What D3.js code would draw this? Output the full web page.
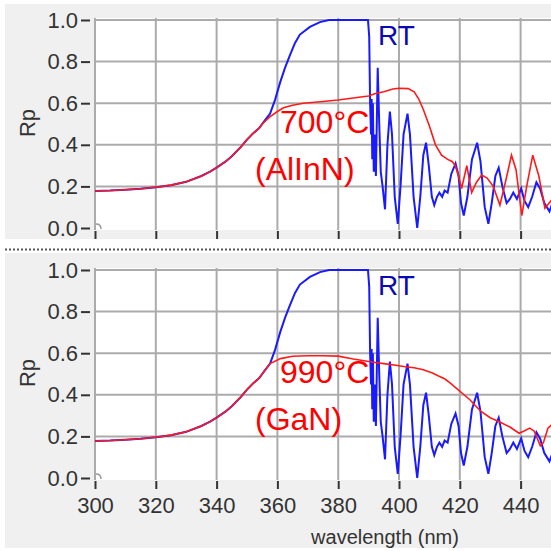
<!DOCTYPE html>
<html>
<head>
<meta charset="utf-8">
<script src="https://cdn.jsdelivr.net/npm/d3@7"></script>
<style>
  body { margin: 0; background: #fff; }
  svg { display: block; }
</style>
</head>
<body>
<div id="chart"></div>
<script>
// shared low-wavelength part (blue and red lie on top of each other)
var baseWl = [300, 305, 310, 315, 320, 325, 330, 335, 338, 340, 343, 345, 348, 350, 352, 354];
var baseRp = [0.178, 0.18, 0.184, 0.189, 0.196, 0.206, 0.222, 0.25, 0.272, 0.29, 0.32, 0.345, 0.39, 0.425, 0.455, 0.48];

// RT curve (blue), same in both panels
var rtWl = [355, 356, 357.6, 359.2, 360.9, 362.5, 364.1, 365.8, 367.4, 370.7,
            374, 377, 389.8, 390.2, 390.5, 390.8, 391.0, 391.2, 391.4, 391.7,
            392.0, 392.4, 393.0, 393.5, 394.0, 394.6, 395.4, 396.2, 397.0, 397.7,
            398.6, 399.6, 400.5, 401.5, 402.8, 403.6, 404.8, 406.0, 407.0, 408.0,
            408.9, 409.8, 410.8, 411.6, 412.5, 413.3, 414.2, 415.0, 416.0, 417.2,
            418.6, 419.6, 420.4, 421.3, 422.5, 424.0, 425.7, 426.8, 428.2, 429.4,
            430.5, 431.7, 432.8, 434.0, 435.4, 436.5, 437.6, 438.8, 440.2, 441.3,
            442.5, 443.8, 445.2, 446.4, 447.8, 449.5, 450.5];
var rtRp = [0.5, 0.52, 0.55, 0.615, 0.70, 0.77, 0.83, 0.89, 0.93, 0.967,
            0.99, 1.0, 1.0, 0.92, 0.6, 0.45, 0.62, 0.33, 0.6, 0.27,
            0.45, 0.25, 0.77, 0.5, 0.27, 0.2, 0.09, 0.4, 0.56, 0.45,
            0.15, 0.02, 0.2, 0.45, 0.55, 0.45, 0.15, 0.0, 0.15, 0.35,
            0.41, 0.3, 0.15, 0.11, 0.15, 0.17, 0.15, 0.18, 0.17, 0.26,
            0.31, 0.25, 0.12, 0.06, 0.15, 0.33, 0.41, 0.32, 0.1, 0.02,
            0.12, 0.25, 0.29, 0.2, 0.12, 0.14, 0.17, 0.14, 0.19, 0.13,
            0.1, 0.15, 0.22, 0.19, 0.12, 0.08, 0.12];

// 700°C AlInN (red, top panel)
var alinnWl = [355, 357.6, 360, 362, 365, 368.5, 375, 380, 385, 390,
               392, 395, 398, 400, 403, 405, 406.5, 408, 410, 412,
               414, 416, 417.5, 418.5, 419.5, 420.6, 422.3, 423.9, 425.5, 427.2,
               429, 431, 433.2, 435, 437, 438.5, 440.4, 442, 444, 446,
               448, 450.5];
var alinnRp = [0.5, 0.535, 0.56, 0.578, 0.59, 0.60, 0.608, 0.615, 0.625, 0.635,
               0.645, 0.655, 0.668, 0.672, 0.67, 0.655, 0.62, 0.57, 0.49, 0.40,
               0.35, 0.33, 0.32, 0.30, 0.255, 0.19, 0.30, 0.17, 0.22, 0.255,
               0.24, 0.2, 0.11, 0.22, 0.35, 0.28, 0.06, 0.2, 0.35, 0.25,
               0.095, 0.14];

// 990°C GaN (red, bottom panel)
var ganWl = [355, 357.6, 361, 365, 370, 375, 380, 385, 388, 391,
             395, 399, 402, 405, 408, 411, 413, 415, 417, 419,
             421, 423.4, 425, 427, 430, 433, 436.5, 439.5, 441, 443,
             444.5, 446.5, 447.5, 449, 450.5];
var ganRp = [0.5, 0.55, 0.574, 0.585, 0.588, 0.588, 0.586, 0.572, 0.565, 0.558,
             0.55, 0.542, 0.535, 0.53, 0.52, 0.505, 0.49, 0.477, 0.455, 0.43,
             0.405, 0.375, 0.35, 0.32, 0.29, 0.27, 0.245, 0.215, 0.225, 0.24,
             0.225, 0.155, 0.17, 0.24, 0.26];

var xTicks = [300, 320, 340, 360, 380, 400, 420, 440];
var yTicks = [0, 0.2, 0.4, 0.6, 0.8, 1.0];

var w = 551, h = 551;
var font = "'Liberation Sans', Arial, sans-serif";

var svg = d3.select("#chart").append("svg")
  .attr("width", w)
  .attr("height", h);

svg.append("rect").attr("width", w).attr("height", h).attr("fill", "#fff");
svg.append("rect").attr("x", 5).attr("y", 4).attr("width", w - 5).attr("height", 235).attr("fill", "#f0f0f0");
svg.append("rect").attr("x", 5).attr("y", 253).attr("width", w - 5).attr("height", 295).attr("fill", "#f0f0f0");

// dotted separator between the two graphs
svg.append("line")
  .attr("x1", 5).attr("x2", w)
  .attr("y1", 249.5).attr("y2", 249.5)
  .attr("stroke", "#555")
  .attr("stroke-width", 2)
  .attr("stroke-dasharray", "2,2");

var xScale = d3.scaleLinear()
  .domain([300, 450])
  .range([95, 551]);

function toPoints(wl, rp) {
  return wl.map(function(d, i) { return [d, rp[i]]; });
}

var drawPanel = function(top, redWl, redRp, tempLabel, matLabel, showXLabels) {
  var yScale = d3.scaleLinear()
    .domain([0, 1])
    .range([top + 208, top]);

  var g = svg.append("g");

  g.append("rect")
    .attr("x", xScale(300))
    .attr("y", top - 2)
    .attr("width", w - xScale(300))
    .attr("height", yScale(0) - top + 4)
    .attr("fill", "#fff");

  // grid
  g.selectAll(".vgrid")
    .data(xTicks)
    .enter()
    .append("line")
    .attr("x1", function(d) { return xScale(d); })
    .attr("x2", function(d) { return xScale(d); })
    .attr("y1", top - 2)
    .attr("y2", yScale(0) + 2)
    .attr("stroke", "#ababab")
    .attr("stroke-width", 2);

  g.selectAll(".hgrid")
    .data(yTicks.slice(1))
    .enter()
    .append("line")
    .attr("x1", xScale(300))
    .attr("x2", w)
    .attr("y1", function(d) { return yScale(d); })
    .attr("y2", function(d) { return yScale(d); })
    .attr("stroke", "#ababab")
    .attr("stroke-width", 2);

  // axes
  var yAxis = d3.axisLeft(yScale)
    .tickValues(yTicks)
    .tickFormat(d3.format(".1f"))
    .tickSize(9)
    .tickPadding(3);

  var ya = g.append("g")
    .attr("transform", "translate(90,0)")
    .call(yAxis);

  var xAxis = d3.axisBottom(xScale)
    .tickValues(xTicks)
    .tickSize(8)
    .tickPadding(8)
    .tickFormat(showXLabels ? d3.format("d") : "");

  var xa = g.append("g")
    .attr("transform", "translate(0," + (yScale(0) + 3) + ")")
    .call(xAxis);

  [ya, xa].forEach(function(a) {
    a.select(".domain").remove();
    a.selectAll(".tick line").attr("stroke", "#333").attr("stroke-width", 2);
    a.selectAll(".tick text")
      .attr("fill", "#333")
      .attr("font-family", font)
      .attr("font-size", "22px");
  });

  g.append("text")
    .attr("transform", "translate(27," + (top + 103) + ") rotate(-90)")
    .attr("text-anchor", "middle")
    .attr("dominant-baseline", "central")
    .attr("font-family", font)
    .attr("font-size", "22px")
    .attr("fill", "#333")
    .text("Rp");

  // little marker at the origin
  g.append("path")
    .attr("d", "M" + (xScale(300) + 1) + "," + (yScale(0) - 4) + " q5,0 5,5")
    .attr("fill", "none")
    .attr("stroke", "#999")
    .attr("stroke-width", 1.5);

  var line = d3.line()
    .x(function(d) { return xScale(d[0]); })
    .y(function(d) { return yScale(d[1]); });

  var blue = toPoints(baseWl.concat(rtWl), baseRp.concat(rtRp));
  var red = toPoints(baseWl.concat(redWl), baseRp.concat(redRp));

  g.append("path")
    .datum(blue)
    .attr("d", line)
    .attr("fill", "none")
    .attr("stroke", "#1a1aff")
    .attr("stroke-width", 2);

  g.append("path")
    .datum(red)
    .attr("d", line)
    .attr("fill", "none")
    .attr("stroke", "#ff1a1a")
    .attr("stroke-width", 1.6);

  // labels
  g.append("text")
    .attr("x", 378)
    .attr("y", top + 25)
    .attr("font-family", font)
    .attr("font-size", "28px")
    .attr("fill", "#0a0ab4")
    .text("RT");

  g.append("text")
    .attr("x", 280)
    .attr("y", top + 113)
    .attr("font-family", font)
    .attr("font-size", "32px")
    .attr("fill", "#ff0000")
    .text(tempLabel);

  g.append("text")
    .attr("x", 255)
    .attr("y", top + 160)
    .attr("font-family", font)
    .attr("font-size", "32px")
    .attr("fill", "#ff0000")
    .text(matLabel);
}

drawPanel(20, alinnWl, alinnRp, "700°C", "(AlInN)", false);
drawPanel(270, ganWl, ganRp, "990°C", "(GaN)", true);

svg.append("text")
  .attr("x", 385)
  .attr("y", 544)
  .attr("text-anchor", "middle")
  .attr("font-family", font)
  .attr("font-size", "20px")
  .attr("fill", "#333")
  .text("wavelength (nm)");
</script>
</body>
</html>
